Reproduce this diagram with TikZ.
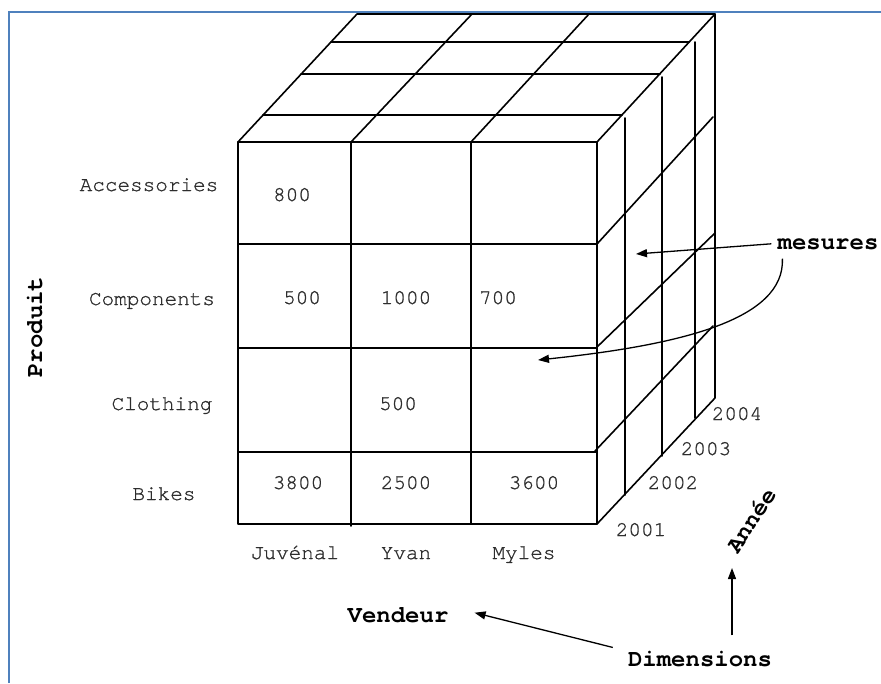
\documentclass[tikz,border=0pt]{standalone}
\usepackage{fontspec}
\setmainfont{TeX Gyre Cursor}
\newfontfamily\labelfont{TeX Gyre Cursor}[FakeBold=0.9]
\usetikzlibrary{arrows.meta}
\definecolor{frameblue}{RGB}{79,129,189}
\definecolor{txt}{RGB}{45,45,45}

\begin{document}
\begin{tikzpicture}[x=1pt,y=-1pt,
  edge/.style={line width=1.6pt, black, line cap=round, line join=round},
  lbl/.style={font=\labelfont\fontsize{21}{21}\selectfont, text=txt, inner sep=0pt, anchor=base},
  dimlbl/.style={font=\fontsize{24}{24}\selectfont\bfseries, inner sep=0pt, anchor=base},
  pointer/.style={line width=1.3pt, -{Triangle[length=11pt,width=8pt]}}]
\useasboundingbox (0,0) rectangle (881,683);
\fill[white] (0,0) rectangle (881,683);

% frame
\draw[frameblue, line width=2.6pt] (9,683) -- (9,12) -- (881,12);

% front face
\draw[edge] (238,142) rectangle (597,524);
\foreach \y in {244,348,452} \draw[edge] (238,\y) -- (597,\y);
\draw[edge] (351,142) -- (351,526);
\draw[edge] (471,142) -- (471,524);

% top face
\draw[edge] (238,142) -- (357,14) -- (715,14) -- (597,142);
\draw[edge] (351,142) -- (472,14);
\draw[edge] (471,142) -- (589,14);
\draw[edge] (263,115) -- (622,115);
\draw[edge] (301,74) -- (660,74);
\draw[edge] (331,42) -- (689,42);

% right face
\draw[edge] (715,14) -- (715,398) -- (597,524);
\draw[edge] (625,118) -- (625,495);
\draw[edge] (662,77) -- (662,456);
\draw[edge] (695,42) -- (695,418);
\draw[edge] (597,244) -- (713,117);
\draw[edge] (597,347) -- (715,233);
\draw[edge] (595,451) -- (713,326);

% product axis
\node[lbl] (acc) at (149,191) {Accessories};
\node[lbl] (comp) at (152,305) {Components};
\node[lbl] (cloth) at (162,410) {Clothing};
\node[lbl] (bikes) at (164,500) {Bikes};

% cell values
\node[lbl] (v11) at (292,201) {800};
\node[lbl] (v21) at (302,304) {500};
\node[lbl] (v22) at (406,304) {1000};
\node[lbl] (v23) at (498,304) {700};
\node[lbl] (v32) at (398,410) {500};
\node[lbl] (v41) at (298,489) {3800};
\node[lbl] (v42) at (406,489) {2500};
\node[lbl] (v43) at (534,489) {3600};

% seller axis
\node[lbl] (juv) at (295,559) {Juvénal};
\node[lbl] (yvan) at (406,559) {Yvan};
\node[lbl] (myl) at (524,559) {Myles};

% year axis
\node[lbl] (y4) at (737,420) {2004};
\node[lbl] (y3) at (706,455) {2003};
\node[lbl] (y2) at (673,489) {2002};
\node[lbl] (y1) at (641,536) {2001};

% dimension names
\node[dimlbl, rotate=90] (prod) at (42,327) {Produit};
\node[dimlbl] (vend) at (398,622) {Vendeur};
\node[dimlbl, anchor=center, rotate=57] (ann) at (751,520) {Année};
\node[dimlbl] (dim) at (700,666) {Dimensions};
\node[dimlbl] (mes) at (828,249) {mesures};

% pointers
\draw[pointer] ([xshift=-6pt]mes.west) -- (636,254);
\draw[pointer] ([shift={(5,9)}]mes.south west) .. controls (785,320) and (680,345) .. (538,360);
\draw[pointer] ([shift={(-15,-3)}]dim.north west) -- ([shift={(26,-2)}]vend.east);
\draw[pointer] ([shift={(32,-15)}]dim.north) -- ([shift={(-19,48)}]ann.center);
\end{tikzpicture}
\end{document}
